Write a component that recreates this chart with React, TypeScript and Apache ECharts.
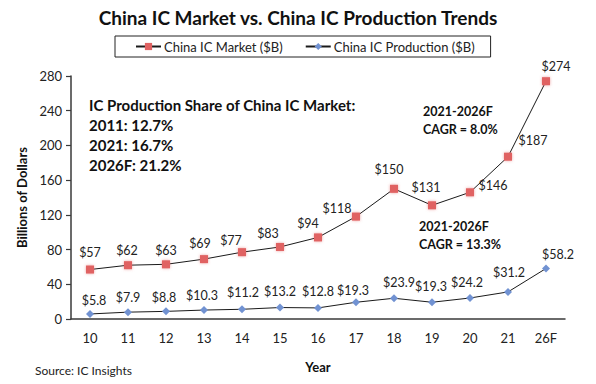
import React, { useEffect, useRef } from "react";
import * as echarts from "echarts";

const years = ["10", "11", "12", "13", "14", "15", "16", "17", "18", "19", "20", "21", "26F"];
const marketValues = [57, 62, 63, 69, 77, 83, 94, 118, 150, 131, 146, 187, 274];
const marketLabels = ["$57", "$62", "$63", "$69", "$77", "$83", "$94", "$118", "$150", "$131", "$146", "$187", "$274"];
const productionValues = [5.8, 7.9, 8.8, 10.3, 11.2, 13.2, 12.8, 19.3, 23.9, 19.3, 24.2, 31.2, 58.2];
const productionLabels = ["$5.8", "$7.9", "$8.8", "$10.3", "$11.2", "$13.2", "$12.8", "$19.3", "$23.9", "$19.3", "$24.2", "$31.2", "$58.2"];
const yTicks = [0, 40, 80, 120, 160, 200, 240, 280];

// label nudges (layout only)
const marketLabelNudge: [number, number][] = [
  [0, -3], [-1, -1], [0, 0], [-4, -2], [-11, 2], [-12, 1], [-10, 0], [-19, 6], [-5, -5], [-6, -4], [23, 7], [25, -2], [10, -1],
];
const productionLabelNudge: [number, number][] = [
  [4, 1], [0, -1], [-2, 0], [-2, -1], [1, -3], [0, -2], [0, -2], [-3, 2], [5, -2], [-1, -2], [-3, -1], [1, -5], [12, 0],
];

const FONT = "Lato, 'Open Sans', sans-serif";
const MARKET_COLOR = "#E06262";
const PROD_COLOR = "#7192D2";

export default function App() {
  const ref = useRef<HTMLDivElement>(null);
  useEffect(() => {
    if (!ref.current) return;
    const chart = echarts.init(ref.current, null, { renderer: "svg" });
    const labelStyle = { fontFamily: FONT, fontSize: 12.5, color: "#222" };
    chart.setOption({
      animation: false,
      textStyle: { fontFamily: FONT },
      title: {
        text: "China IC Market vs. China IC Production Trends",
        left: "center",
        top: 3,
        textStyle: { fontFamily: FONT, fontSize: 19, fontWeight: "bold", color: "#111" },
      },
      legend: {
        left: 115,
        top: 36,
        padding: [4, 16, 4, 20],
        borderColor: "#222",
        borderWidth: 1,
        itemGap: 22,
        itemWidth: 25,
        itemHeight: 9,
        textStyle: { fontFamily: FONT, fontSize: 13, color: "#222", padding: [0, 0, 0, -2] },
        data: ["China IC Market ($B)", "China IC Production ($B)"],
      },
      grid: { left: 71, right: 31, top: 76, bottom: 65, containLabel: false },
      xAxis: {
        type: "category",
        data: years,
        boundaryGap: true,
        name: "Year",
        nameLocation: "middle",
        nameGap: 41,
        nameTextStyle: { fontFamily: FONT, fontSize: 13, fontWeight: "bold", color: "#111" },
        axisLine: { lineStyle: { color: "#3a3a3a", width: 1.5 } },
        axisTick: { inside: true, length: 5, lineStyle: { color: "#3a3a3a", width: 1.2 } },
        axisLabel: { fontFamily: FONT, fontSize: 13, color: "#222", margin: 12 },
      },
      yAxis: {
        type: "value",
        min: 0,
        max: 280,
        interval: 40,
        name: "Billions of Dollars",
        nameLocation: "middle",
        nameGap: 43,
        nameTextStyle: { fontFamily: FONT, fontSize: 13, fontWeight: "bold", color: "#111" },
        axisLine: { show: true, lineStyle: { color: "#3a3a3a", width: 1.5 } },
        axisTick: { show: true, length: 5, lineStyle: { color: "#3a3a3a", width: 1.2 } },
        axisLabel: {
          fontFamily: FONT,
          fontSize: 13,
          color: "#222",
          margin: 9,
          formatter: (v: number) => (yTicks.includes(v) ? String(v) : ""),
        },
        splitLine: { show: false },
      },
      series: [
        {
          name: "China IC Market ($B)",
          type: "line",
          symbol: "rect",
          symbolSize: 8,
          itemStyle: { color: MARKET_COLOR, shadowColor: "rgba(224,98,98,0.6)", shadowBlur: 3 },
          lineStyle: { color: "#1a1a1a", width: 1 },
          data: marketValues.map((v, i) => ({
            value: v,
            label: {
              show: true,
              position: "inside",
              offset: [marketLabelNudge[i][0], -14 + marketLabelNudge[i][1]],
              formatter: marketLabels[i],
              ...labelStyle,
            },
          })),
        },
        {
          name: "China IC Production ($B)",
          type: "line",
          symbol: "diamond",
          symbolSize: 8,
          itemStyle: { color: PROD_COLOR },
          lineStyle: { color: "#1a1a1a", width: 1 },
          data: productionValues.map((v, i) => ({
            value: v,
            label: {
              show: true,
              position: "inside",
              offset: [productionLabelNudge[i][0], -14 + productionLabelNudge[i][1]],
              formatter: productionLabels[i],
              ...labelStyle,
            },
          })),
        },
      ],
      graphic: [
        {
          type: "text",
          left: 89,
          top: 95,
          style: {
            text: "IC Production Share of China IC Market:\n2011: 12.7%\n2021: 16.7%\n2026F: 21.2%",
            font: `bold 15px ${FONT}`,
            lineHeight: 20,
            fill: "#111",
          },
        },
        {
          type: "text",
          left: 423,
          top: 102,
          style: {
            text: "2021-2026F\nCAGR = 8.0%",
            font: `bold 12.5px ${FONT}`,
            lineHeight: 18,
            fill: "#111",
          },
        },
        {
          type: "text",
          left: 419,
          top: 217,
          style: {
            text: "2021-2026F\nCAGR = 13.3%",
            font: `bold 12.5px ${FONT}`,
            lineHeight: 18,
            fill: "#111",
          },
        },
        {
          type: "text",
          left: 35,
          top: 364,
          style: { text: "Source: IC Insights", font: `12px ${FONT}`, fill: "#222" },
        },
      ],
    });
    return () => chart.dispose();
  }, []);
  return <div ref={ref} style={{ width: 596, height: 384, position: "absolute", left: 0, top: 0 }} />;
}
